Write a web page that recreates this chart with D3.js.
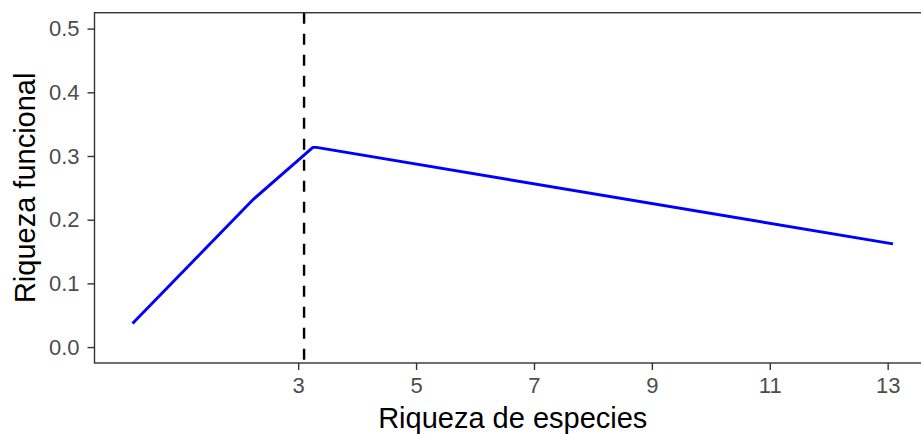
<!DOCTYPE html>
<html>
<head>
<meta charset="utf-8">
<script src="https://cdn.jsdelivr.net/npm/d3@7/dist/d3.min.js"></script>
<style>
  html, body { margin: 0; padding: 0; background: #fff; }
  svg { display: block; }
  text { font-family: "Liberation Sans", Arial, sans-serif; }
</style>
</head>
<body>
<svg id="chart" width="921" height="434"></svg>
<script>
// ---- data ----
const xValues = [0.19, 2.24, 3.25, 3.31, 13.09];
const yValues = [0.037, 0.232, 0.3135, 0.3135, 0.162];
const vlineX = 3.1;
const xTicks = [3, 5, 7, 9, 11, 13];
const yTicks = [0, 0.1, 0.2, 0.3, 0.4, 0.5];
const yLimits = [0, 0.5];
const xTitle = "Riqueza de especies";
const yTitle = "Riqueza funcional";

// ---- layout ----
const W = 921, H = 434;
const panel = { left: 94.5, right: 931, top: 12.7, bottom: 363 };

const xMin = d3.min(xValues), xMax = d3.max(xValues);
const xPad = (xMax - xMin) * 0.05;
const yPad = (yLimits[1] - yLimits[0]) * 0.05;

const x = d3.scaleLinear().domain([xMin - xPad, xMax + xPad]).range([panel.left, panel.right]);
const y = d3.scaleLinear().domain([yLimits[0] - yPad, yLimits[1] + yPad]).range([panel.bottom, panel.top]);

const svg = d3.select("#chart");
const data = xValues.map((v, i) => ({ x: v, y: yValues[i] }));

// line
svg.append("path")
  .datum(data)
  .attr("fill", "none")
  .attr("stroke", "#0000FF")
  .attr("stroke-width", 2.9)
  .attr("stroke-linejoin", "round")
  .attr("stroke-linecap", "butt")
  .attr("d", d3.line().x(d => x(d.x)).y(d => y(d.y)));

// vertical dashed line
svg.append("line")
  .attr("x1", x(vlineX)).attr("x2", x(vlineX))
  .attr("y1", panel.top).attr("y2", panel.bottom)
  .attr("stroke", "#000")
  .attr("stroke-width", 2.4)
  .attr("stroke-dasharray", "11,10");

// panel border
svg.append("rect")
  .attr("x", panel.left).attr("y", panel.top)
  .attr("width", panel.right - panel.left)
  .attr("height", panel.bottom - panel.top)
  .attr("fill", "none")
  .attr("stroke", "#333333")
  .attr("stroke-width", 1.4);

// x axis
const xAxis = d3.axisBottom(x).tickValues(xTicks).tickSize(7).tickPadding(7).tickFormat(d3.format("d"));
const gx = svg.append("g").attr("transform", `translate(0,${panel.bottom})`).call(xAxis);
gx.select(".domain").remove();
gx.selectAll(".tick line").attr("stroke", "#333333").attr("stroke-width", 1.4);
gx.selectAll(".tick text").attr("fill", "#4D4D4D").style("font-size", "22px")
  .attr("font-family", "Liberation Sans, Arial, sans-serif");

// y axis
const yAxis = d3.axisLeft(y).tickValues(yTicks).tickSize(7).tickPadding(8).tickFormat(d3.format(".1f"));
const gy = svg.append("g").attr("transform", `translate(${panel.left},0)`).call(yAxis);
gy.select(".domain").remove();
gy.selectAll(".tick line").attr("stroke", "#333333").attr("stroke-width", 1.4);
gy.selectAll(".tick text").attr("fill", "#4D4D4D").style("font-size", "22px")
  .attr("font-family", "Liberation Sans, Arial, sans-serif");

// titles
svg.append("text")
  .attr("x", (panel.left + panel.right) / 2)
  .attr("y", 428)
  .attr("text-anchor", "middle")
  .attr("fill", "#000")
  .style("font-size", "29px")
  .text(xTitle);

svg.append("text")
  .attr("transform", `translate(35,${(panel.top + panel.bottom) / 2}) rotate(-90)`)
  .attr("text-anchor", "middle")
  .attr("fill", "#000")
  .style("font-size", "29px")
  .text(yTitle);
</script>
</body>
</html>
